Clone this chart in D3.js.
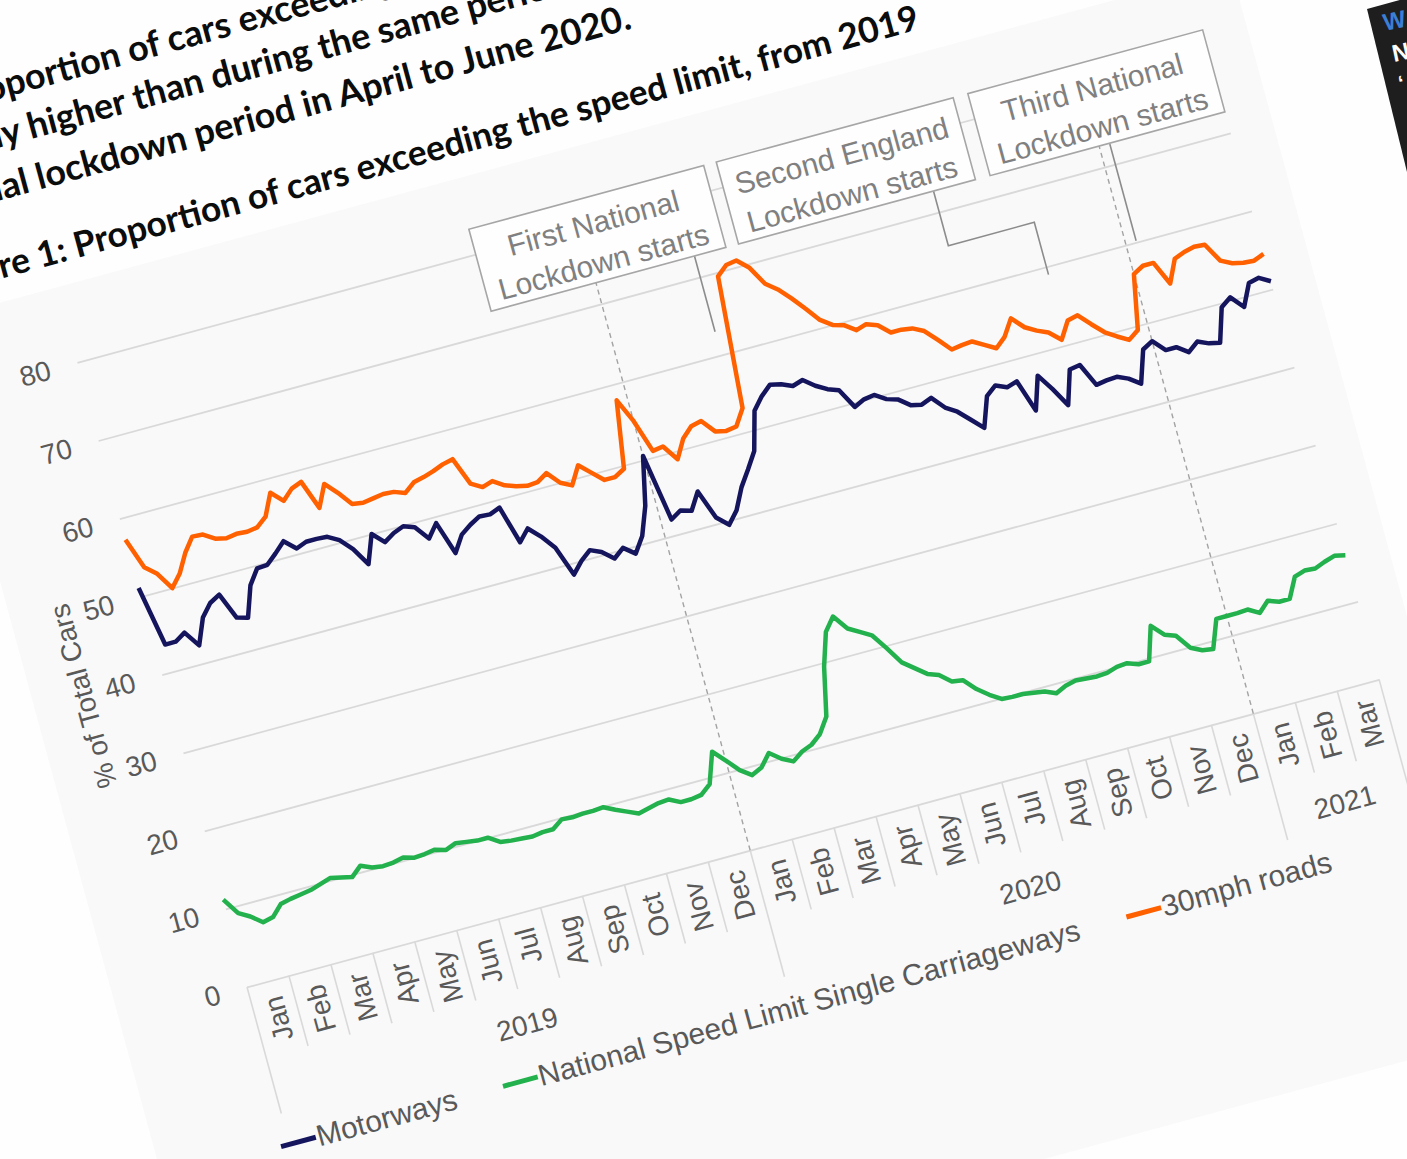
<!DOCTYPE html>
<html>
<head>
<meta charset="utf-8">
<script src="https://cdn.jsdelivr.net/npm/d3@7"></script>
<style>
body { margin:0; background:#fefefe; }
svg { display:block; }
</style>
</head>
<body>
<svg width="1407" height="1159"></svg>
<script>

// x categories: months from Jan 2019 to Mar 2021
var months = ["Jan","Feb","Mar","Apr","May","Jun","Jul","Aug","Sep","Oct","Nov","Dec",
              "Jan","Feb","Mar","Apr","May","Jun","Jul","Aug","Sep","Oct","Nov","Dec",
              "Jan","Feb","Mar"]
var years = ["2019","2020","2021"]
var yearMonths = [12,12,3]
var yTicks = [0,10,20,30,40,50,60,70,80]

// one reading every quarter month, starting 1 Jan 2019
var readingMonth = d3.range(109).map(function(i){return i/4})

var motorways = [
 51.1,43.5,43.5,44.3,42.3,45.5,47.0,47.7,44.4,44.0,
 47.8,49.6,49.7,50.8,52.0,50.7,51.2,51.2,51.1,50.3,
 48.8,46.5,50.0,48.6,49.4,49.9,49.4,47.6,49.2,45.0,
 47.0,47.9,48.6,48.5,49.0,44.2,45.6,44.2,42.4,38.6,
 40.0,41.0,40.4,39.2,40.2,39.1,41.0,44.5,50.5,42.0,
 42.8,42.4,44.5,40.8,39.5,41.0,43.6,45.5,47.5,52.3,
 53.8,54.9,54.6,54.0,54.4,53.3,52.5,52.0,49.5,50.1,
 50.3,49.4,49.0,47.9,47.6,48.1,46.5,45.6,44.2,42.8,
 46.5,47.5,46.9,47.3,43.2,47.3,45.2,42.8,47.0,47.2,
 44.3,44.5,44.6,44.0,43.0,47.0,47.7,46.2,46.2,45.2,
 46.2,45.6,45.3,49.5,50.4,48.8,51.5,51.8,51.0]

var nslSingle = [
 11.2,9.1,8.3,7.2,7.5,8.8,9.1,9.3,9.5,9.9,
 10.3,10.0,9.7,10.8,10.2,10.0,10.1,10.4,10.0,10.1,
 10.3,9.9,10.4,10.2,10.0,10.0,9.1,8.9,8.8,8.7,
 8.9,8.9,9.8,9.7,9.8,9.8,9.9,9.2,8.6,8.0,
 8.3,8.6,8.7,8.0,8.0,8.2,9.2,13.0,11.5,9.9,
 8.9,9.5,11.0,9.9,9.2,10.1,10.6,11.6,13.5,19.5,
 23.6,25.2,23.3,22.5,21.7,19.7,17.5,16.4,15.3,14.8,
 13.6,13.4,11.9,10.8,9.9,9.8,9.8,9.6,9.4,8.8,
 9.4,9.7,9.6,9.5,9.6,10.0,10.1,9.6,9.6,13.8,
 12.3,11.8,9.9,9.2,9.0,12.5,12.5,12.5,12.6,11.8,
 13.0,12.5,12.5,15.0,15.4,15.3,15.8,16.2,15.9]

var mph30 = [
 57.3,53.4,52.2,50.0,51.5,53.8,55.5,55.4,54.5,54.2,
 54.4,54.3,54.5,55.5,58.2,56.8,58.0,58.5,54.8,57.5,
 56.0,54.2,54.0,54.2,54.4,54.3,53.8,54.8,55.1,55.5,
 56.0,56.3,52.8,52.0,52.4,51.5,51.0,50.7,50.8,51.6,
 50.0,49.3,51.5,50.2,48.9,48.9,49.6,58.0,55.0,50.8,
 51.0,49.0,51.3,52.5,52.8,51.1,50.8,51.0,53.0,69.5,
 70.6,70.8,69.5,67.1,66.0,64.5,62.8,61.0,60.0,59.6,
 58.6,59.0,58.5,57.2,57.2,57.0,56.3,54.8,53.2,53.4,
 53.5,52.7,51.9,53.0,55.0,53.5,52.7,52.1,50.8,52.9,
 53.2,51.7,50.3,49.4,48.6,49.5,56.3,57.0,57.0,54.0,
 56.8,57.3,57.6,57.5,55.1,54.4,54.1,54.0,54.5]

var seriesNames = ["Motorways","National Speed Limit Single Carriageways","30mph roads"]
var seriesColors = ["#15155e","#22b14c","#ff6000"]

var lockdownNames = [["First National","Lockdown starts"],
                     ["Second England","Lockdown starts"],
                     ["Third National","Lockdown starts"]]

var titleText = [
 "The proportion of cars exceeding the speed limit on 30mph roads was",
 "noticeably higher than during the same period in 2019 during the",
 "first national lockdown period in April to June 2020.",
 "Figure 1: Proportion of cars exceeding the speed limit, from 2019"]


var svg = d3.select("svg")
var axisFont = "'Liberation Sans', Arial, sans-serif"
var axisGrey = "#595959"

// the page was photographed at a tilt
var chart = svg.append("g").attr("transform","translate(247,987) rotate(-15.2)")

var monthW = 43.45
var plotW = 27*monthW
var plotH = 647.2

var x = d3.scaleLinear().domain([0,27]).range([0,plotW])
var y = d3.scaleLinear().domain([0,80]).range([0,-plotH])

chart.append("rect")
    .attr("x",-132).attr("y",-725)
    .attr("width",132+28*monthW).attr("height",1100)
    .attr("fill","#f9f9f9")

// title text
var title = chart.append("g")
    .attr("font-family","Lato, 'Noto Sans', sans-serif")
    .attr("font-weight",700)
    .attr("fill","#0b0c0c")

var titleY = [-922,-875,-824,-748]
var tl = title.selectAll("text").data(titleText).enter().append("text")
    .attr("y",function(d,i){return titleY[i]})
    .attr("font-size",28)
    .text(function(d){return d})

var placeLine = function(node, from, x0, x1)
{
    var n = node.getNumberOfChars()
    var sel = d3.select(node)
    if (x1 != null) {
        var w = node.getSubStringLength(from, n-from)
        sel.attr("font-size", 28*(x1-x0)/w)
    }
    var pre = from > 0 ? node.getSubStringLength(0,from) : 0
    sel.attr("x", x0-pre)
}
var tn = tl.nodes()
placeLine(tn[2], 12, -27, 624)
tl.filter(function(d,i){return i<2}).attr("font-size", d3.select(tn[2]).attr("font-size"))
placeLine(tn[0], 7, 3)
placeLine(tn[1], 9, -13)
placeLine(tn[3], 4, -51, 902)

// gridlines and value labels
var yAxis = d3.axisLeft(y).tickValues(yTicks).tickSize(-plotW).tickPadding(28)
chart.append("g")
    .call(yAxis)
    .call(function(g){
        g.select(".domain").remove()
        g.selectAll("line").attr("stroke","#d9d9d9").attr("stroke-width",1.8)
        g.selectAll("text")
            .attr("fill",axisGrey)
            .attr("font-size",28)
            .attr("font-family",axisFont)
    })

chart.append("text")
    .attr("transform","translate(-72,"+y(40)+") rotate(-90)")
    .attr("text-anchor","middle")
    .attr("font-family",axisFont)
    .attr("font-size",28)
    .attr("fill",axisGrey)
    .text("% of Total Cars")

// month boxes under the plot
var yearStarts = [0,12,24,27]
chart.selectAll(".mdiv").data(d3.range(28)).enter().append("line")
    .attr("class","mdiv")
    .attr("x1",function(d){return x(d)}).attr("x2",function(d){return x(d)})
    .attr("y1",0)
    .attr("y2",function(d){return yearStarts.indexOf(d)>=0 ? 131 : 73})
    .attr("stroke","#d9d9d9").attr("stroke-width",1.6)

chart.selectAll(".mlab").data(months).enter().append("text")
    .attr("class","mlab")
    .attr("transform",function(d,i){return "translate("+(x(i+0.5)+10)+",16) rotate(-90)"})
    .attr("text-anchor","end")
    .attr("font-family",axisFont)
    .attr("font-size",28)
    .attr("fill",axisGrey)
    .text(function(d){return d})

var cum = 0
var yearMid = yearMonths.map(function(n){var m = cum+n/2; cum += n; return m})
chart.selectAll(".ylab").data(years).enter().append("text")
    .attr("class","ylab")
    .attr("x",function(d,i){return x(yearMid[i])})
    .attr("y",119)
    .attr("text-anchor","middle")
    .attr("font-family",axisFont)
    .attr("font-size",28)
    .attr("fill",axisGrey)
    .text(function(d){return d})

// year start markers
chart.selectAll(".ydash").data([12,24]).enter().append("line")
    .attr("class","ydash")
    .attr("x1",function(d){return x(d)}).attr("x2",function(d){return x(d)})
    .attr("y1",y(0)).attr("y2",y(80))
    .attr("stroke","#a3a3a3").attr("stroke-width",1.4)
    .attr("stroke-dasharray","5,4")

// lockdown callouts
var leaders = [
    [[14.35,72.8],[14.35,63]],
    [[20.05,72.7],[20.05,65.7],[22.1,65.7],[22.1,59]],
    [[24.25,72.6],[24.25,60.2]]
]
var boxes = [[9.5,15.1],[15.4,21.05],[21.4,27.0]]

var leaderLine = d3.line().x(function(p){return x(p[0])}).y(function(p){return y(p[1])})
chart.selectAll(".leader").data(leaders).enter().append("path")
    .attr("class","leader")
    .attr("d",leaderLine)
    .attr("fill","none").attr("stroke","#8c8c8c").attr("stroke-width",1.6)

var bx = chart.selectAll(".box").data(lockdownNames).enter().append("g").attr("class","box")
bx.append("rect")
    .attr("x",function(d,i){return x(boxes[i][0])})
    .attr("width",function(d,i){return x(boxes[i][1])-x(boxes[i][0])})
    .attr("y",y(83.2)).attr("height",y(72.7)-y(83.2))
    .attr("fill","#fefefe").attr("stroke","#a6a6a6").attr("stroke-width",1.6)
bx.selectAll("text").data(function(d,i){return d.map(function(t){return {t:t,i:i}})})
    .enter().append("text")
    .attr("x",function(d){return x((boxes[d.i][0]+boxes[d.i][1])/2)})
    .attr("y",function(d,j){return j==0 ? -636 : -596})
    .attr("text-anchor","middle")
    .attr("font-family",axisFont)
    .attr("font-size",30)
    .attr("fill","#808080")
    .text(function(d){return d.t})

// the three series
var allSeries = [motorways, nslSingle, mph30]
var line = d3.line()
    .x(function(d,i){return x(readingMonth[i])})
    .y(function(d){return y(d)})

chart.selectAll(".series").data(allSeries).enter().append("path")
    .attr("class","series")
    .attr("d",line)
    .attr("fill","none")
    .attr("stroke",function(d,i){return seriesColors[i]})
    .attr("stroke-width",4.5)
    .attr("stroke-linejoin","round")

// legend
var legendX = [-9,221,867]
var lg = chart.selectAll(".leg").data(seriesNames).enter().append("g")
    .attr("class","leg")
    .attr("transform",function(d,i){return "translate("+legendX[i]+",163)"})
lg.append("line")
    .attr("x1",0).attr("x2",36).attr("y1",0).attr("y2",0)
    .attr("stroke",function(d,i){return seriesColors[i]})
    .attr("stroke-width",5)
lg.append("text")
    .attr("x",37).attr("y",10)
    .attr("font-family",axisFont)
    .attr("font-size",30)
    .attr("fill",axisGrey)
    .text(function(d){return d})

// edge of the next panel in the photo
var side = svg.append("g")
side.append("polygon")
    .attr("points","1367,9 1407,-2 1407,172")
    .attr("fill","#1e1e1e")
side.append("text")
    .attr("transform","translate(1385,31) rotate(-12)")
    .attr("font-family",axisFont).attr("font-weight",700).attr("font-size",24)
    .attr("fill","#3b7fd4").text("W")
side.append("text")
    .attr("transform","translate(1394,62) rotate(-12)")
    .attr("font-family",axisFont).attr("font-weight",700).attr("font-size",24)
    .attr("fill","#ffffff").text("N")
side.append("text")
    .attr("transform","translate(1400,90) rotate(-12)")
    .attr("font-family",axisFont).attr("font-weight",700).attr("font-size",20)
    .attr("fill","#ffffff").text("\u2018")

</script>
</body>
</html>
